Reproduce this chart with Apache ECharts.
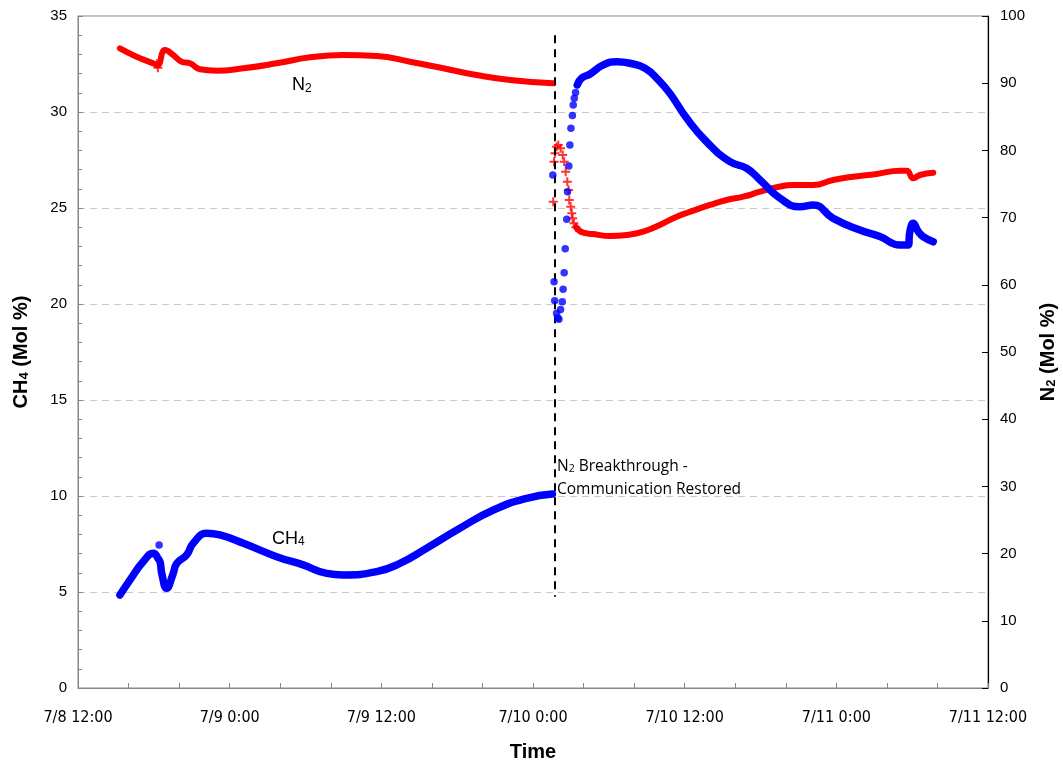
<!DOCTYPE html>
<html><head><meta charset="utf-8">
<script src="https://cdn.jsdelivr.net/npm/echarts@6/dist/echarts.min.js"></script>
<style>html,body{margin:0;padding:0;background:#fff}#c{width:1063px;height:764px}</style>
</head><body><div id="c"></div>
<script>
// ---- tick labels ----
const xTickLabels = ['7/8 12:00','7/9 0:00','7/9 12:00','7/10 0:00','7/10 12:00','7/11 0:00','7/11 12:00'];
const xStart = '07-08 12:00';
const xEnd = '07-11 12:00';
const breakthroughTime = '07-10 01:44';

// ---- CH4 (Mol %), left axis ----
const ch4BeforeTimes = ['07-08 15:19','07-08 16:07','07-08 17:10','07-08 17:58','07-08 18:20','07-08 18:30','07-08 18:38','07-08 19:01','07-08 19:30','07-08 19:49','07-08 20:36','07-08 21:07','07-08 22:11','07-08 23:14','07-09 01:05','07-09 03:43','07-09 05:49','07-09 07:41','07-09 08:59','07-09 11:38','07-09 13:28','07-09 15:35','07-09 18:13','07-09 20:52','07-09 23:30','07-10 01:32'];
const ch4BeforeValues = [4.84,5.63,6.59,7.02,6.75,6.55,5.95,5.19,5.9,6.49,6.93,7.54,8.06,7.97,7.54,6.84,6.41,5.97,5.89,6.06,6.49,7.28,8.32,9.27,9.88,10.10];

const ch4DotTimes = ['07-08 18:25','07-10 01:34','07-10 01:40','07-10 01:43','07-10 01:52','07-10 01:58','07-10 02:03','07-10 02:11','07-10 02:19','07-10 02:23','07-10 02:28','07-10 02:33','07-10 02:40','07-10 02:44','07-10 02:50','07-10 02:55','07-10 03:00','07-10 03:07','07-10 03:11','07-10 03:16','07-10 03:22'];
const ch4DotValues = [7.45,26.72,21.16,20.17,19.52,19.27,19.20,19.72,20.12,20.77,21.63,22.88,24.41,25.85,27.19,28.28,29.15,29.82,30.36,30.71,31.02];

const ch4AfterTimes = ['07-10 03:30','07-10 03:51','07-10 04:31','07-10 05:34','07-10 06:37','07-10 07:40','07-10 08:52','07-10 09:55','07-10 10:50','07-10 12:10','07-10 13:44','07-10 15:35','07-10 16:54','07-10 17:58','07-10 19:32','07-10 21:07','07-10 22:10','07-10 23:45','07-11 01:52','07-11 03:27','07-11 05:02','07-11 05:41','07-11 05:49','07-11 06:05','07-11 06:29','07-11 06:52','07-11 07:40'];
const ch4AfterValues = [31.41,31.76,31.98,32.45,32.62,32.54,32.28,31.67,30.97,29.67,28.45,27.41,27.07,26.46,25.51,25.07,25.16,24.46,23.85,23.51,23.07,23.07,23.77,24.20,23.77,23.51,23.24];

// ---- N2 (Mol %), right axis ----
const n2BeforeTimes = ['07-08 15:19','07-08 16:38','07-08 18:05','07-08 18:18','07-08 18:53','07-08 19:32','07-08 20:12','07-08 20:52','07-08 21:39','07-08 22:58','07-09 01:05','07-09 03:43','07-09 06:21','07-09 08:59','07-09 11:38','07-09 14:16','07-09 16:54','07-09 19:32','07-09 22:11','07-10 01:36'];
const n2BeforeValues = [95.19,93.95,92.86,92.7,94.94,94.2,93.20,92.96,92.07,91.86,92.22,92.96,93.85,94.2,94.05,93.20,92.22,91.22,90.48,89.98];

const n2CrossTimes = ['07-08 18:15','07-08 18:19','07-10 01:36','07-10 01:40','07-10 01:44','07-10 01:52','07-10 02:00','07-10 02:11','07-10 02:21','07-10 02:28','07-10 02:35','07-10 02:43','07-10 02:49','07-10 02:52','07-10 02:59','07-10 03:04','07-10 03:08','07-10 03:14','07-10 03:24'];
const n2CrossValues = [92.9,92.3,72.37,78.32,79.56,80.55,80.80,80.31,79.32,78.32,76.83,75.34,74.11,72.62,71.62,70.64,69.90,69.15,68.56];

const n2AfterTimes = ['07-10 03:24','07-10 03:58','07-10 04:46','07-10 06:05','07-10 07:25','07-10 08:43','07-10 10:02','07-10 11:22','07-10 12:41','07-10 14:00','07-10 15:19','07-10 16:38','07-10 17:58','07-10 19:17','07-10 20:35','07-10 22:10','07-10 23:45','07-11 01:20','07-11 03:11','07-11 05:02','07-11 05:34','07-11 06:05','07-11 06:37','07-11 07:40'];
const n2AfterValues = [68.56,67.75,67.56,67.26,67.41,67.90,68.90,70.13,71.03,71.88,72.62,73.11,73.85,74.51,74.85,74.85,75.60,76.09,76.49,76.98,76.98,75.85,76.34,76.68];

// ---- helpers ----
const YEAR = 2013;
function ts(s){
  const [md, hm] = s.split(' ');
  const [mo, d] = md.split('-').map(Number);
  const [h, mi] = hm.split(':').map(Number);
  return Date.UTC(YEAR, mo - 1, d, h, mi);
}
function zip(t, v){ return t.map((s, i) => [ts(s), v[i]]); }
const H12 = 12 * 3600 * 1000;
const xMin = ts(xStart), xMax = ts(xEnd);

const BLUE = '#0000FF', RED = '#FF0000', GRAY = '#868686';
const PLUS = 'path://M3.5,0H5.5V3.5H9V5.5H5.5V9H3.5V5.5H0V3.5H3.5Z';
const FONT = '"Liberation Sans", Arial, sans-serif';

const chart = echarts.init(document.getElementById('c'), null, {renderer: 'canvas'});

const lineCommon = {
  type: 'line', symbol: 'none', smooth: 0.5,
  animation: false, z: 3
};

chart.setOption({
  animation: false,
  backgroundColor: '#fff',
  grid: { left: 78, right: 75, top: 16, bottom: 76, show: true, borderColor: GRAY, borderWidth: 1,
          backgroundColor: 'transparent', containLabel: false, outerBoundsMode: 'none' },
  xAxis: {
    type: 'value', min: xMin, max: xMax, interval: H12,
    name: 'Time', nameLocation: 'middle', nameGap: 54,
    nameTextStyle: { fontFamily: FONT, fontWeight: 'bold', fontSize: 20, color: '#000' },
    axisLine: { show: true, lineStyle: { color: GRAY, width: 1 } },
    axisTick: { show: true, inside: true, length: 5, lineStyle: { color: GRAY } },
    minorTick: { show: true, splitNumber: 3, length: 5, lineStyle: { color: GRAY } },
    splitLine: { show: false },
    axisLabel: {
      margin: 22, color: '#000', fontSize: 16,
      fontFamily: '"Liberation Sans Narrow", "Arial Narrow", "DejaVu Sans Condensed", sans-serif',
      formatter: v => xTickLabels[Math.round((v - xMin) / H12)] || ''
    }
  },
  yAxis: [
    {
      type: 'value', min: 0, max: 35, interval: 5, position: 'left',
      name: '{m|CH}{s|4}{m| (Mol %)}', nameLocation: 'middle', nameGap: 47, nameRotate: 90,
      nameTextStyle: { rich: {
        m: { fontFamily: FONT, fontWeight: 'bold', fontSize: 20, color: '#000', verticalAlign: 'bottom', lineHeight: 24 },
        s: { fontFamily: FONT, fontWeight: 'bold', fontSize: 13, color: '#000', verticalAlign: 'bottom', lineHeight: 18 }
      } },
      axisLine: { show: true, lineStyle: { color: GRAY, width: 1 } },
      axisTick: { show: true, inside: true, length: 5, lineStyle: { color: GRAY } },
      minorTick: { show: true, splitNumber: 5, length: 4, lineStyle: { color: GRAY } },
      splitLine: { show: true, lineStyle: { color: '#c8c8c8', width: 1, type: [7, 5] } },
      axisLabel: { margin: 11, color: '#000', fontSize: 15, fontFamily: FONT }
    },
    {
      type: 'value', min: 0, max: 100, interval: 10, position: 'right',
      name: '{m|N}{s|2}{m| (Mol %)}', nameLocation: 'middle', nameGap: 46, nameRotate: 90,
      nameTextStyle: { rich: {
        m: { fontFamily: FONT, fontWeight: 'bold', fontSize: 20, color: '#000', verticalAlign: 'bottom', lineHeight: 24 },
        s: { fontFamily: FONT, fontWeight: 'bold', fontSize: 13, color: '#000', verticalAlign: 'bottom', lineHeight: 18 }
      } },
      axisLine: { show: true, lineStyle: { color: '#000', width: 1.2 } },
      axisTick: { show: true, inside: true, length: 6, lineStyle: { color: '#000' } },
      splitLine: { show: false },
      axisLabel: { margin: 12, color: '#000', fontSize: 15, fontFamily: FONT }
    }
  ],
  series: [
    Object.assign({}, lineCommon, { name: 'N2 before', yAxisIndex: 1, data: zip(n2BeforeTimes, n2BeforeValues),
      lineStyle: { color: RED, width: 6, cap: 'round', join: 'round' } }),
    Object.assign({}, lineCommon, { name: 'N2 after', yAxisIndex: 1, data: zip(n2AfterTimes, n2AfterValues),
      lineStyle: { color: RED, width: 6, cap: 'round', join: 'round' } }),
    { type: 'scatter', name: 'N2 points', yAxisIndex: 1, data: zip(n2CrossTimes, n2CrossValues),
      symbol: PLUS, symbolSize: 9, itemStyle: { color: RED }, z: 4, animation: false },
    Object.assign({}, lineCommon, { name: 'CH4 before', yAxisIndex: 0, data: zip(ch4BeforeTimes, ch4BeforeValues),
      lineStyle: { color: BLUE, width: 7.5, cap: 'round', join: 'round' },
      markLine: {
        silent: true, symbol: 'none', animation: false,
        lineStyle: { color: '#000', width: 2, type: [8, 6] },
        label: { show: false },
        data: [[ { coord: [ts(breakthroughTime), 34.0] }, { coord: [ts(breakthroughTime), 4.75] } ]]
      } }),
    Object.assign({}, lineCommon, { name: 'CH4 after', yAxisIndex: 0, data: zip(ch4AfterTimes, ch4AfterValues),
      lineStyle: { color: BLUE, width: 7.5, cap: 'round', join: 'round' } }),
    { type: 'scatter', name: 'CH4 points', yAxisIndex: 0, data: zip(ch4DotTimes, ch4DotValues),
      symbol: 'circle', symbolSize: 7.5, itemStyle: { color: BLUE }, z: 5, animation: false }
  ]
});

// ---- annotations anchored to data coordinates ----
const pN2 = chart.convertToPixel({ xAxisIndex: 0, yAxisIndex: 1 }, [ts('07-09 04:56'), 90.0]);
const pCH4 = chart.convertToPixel({ xAxisIndex: 0, yAxisIndex: 0 }, [ts('07-09 03:21'), 7.86]);
const pNote1 = chart.convertToPixel({ xAxisIndex: 0, yAxisIndex: 0 }, [ts('07-10 01:54'), 11.67]);
const pNote2 = chart.convertToPixel({ xAxisIndex: 0, yAxisIndex: 0 }, [ts('07-10 01:54'), 10.36]);

const seriesLabelRich = {
  m: { fontFamily: FONT, fontSize: 18, fill: '#000', verticalAlign: 'bottom', lineHeight: 22 },
  s: { fontFamily: FONT, fontSize: 12, fill: '#000', verticalAlign: 'bottom', lineHeight: 16 }
};
const NOTE_FONT = '"Open Sans", "Noto Sans", sans-serif';
chart.setOption({
  graphic: [
    { type: 'text', x: pN2[0], y: pN2[1], style: { text: '{m|N}{s|2}', rich: seriesLabelRich, verticalAlign: 'middle', align: 'left' } },
    { type: 'text', x: pCH4[0], y: pCH4[1], style: { text: '{m|CH}{s|4}', rich: seriesLabelRich, verticalAlign: 'middle', align: 'left' } },
    { type: 'text', x: pNote1[0], y: pNote1[1], style: { text: '{m|N}{s|2}{m| Breakthrough -}', verticalAlign: 'middle', align: 'left',
      rich: { m: { fontFamily: NOTE_FONT, fontSize: 15.5, fill: '#000', verticalAlign: 'bottom', lineHeight: 21 },
              s: { fontFamily: NOTE_FONT, fontSize: 10.5, fill: '#000', verticalAlign: 'bottom', lineHeight: 16 } } } },
    { type: 'text', x: pNote2[0], y: pNote2[1], style: { text: 'Communication Restored', fontFamily: NOTE_FONT, fontSize: 15.5, fill: '#000', verticalAlign: 'middle', align: 'left' } }
  ]
});
</script></body></html>
